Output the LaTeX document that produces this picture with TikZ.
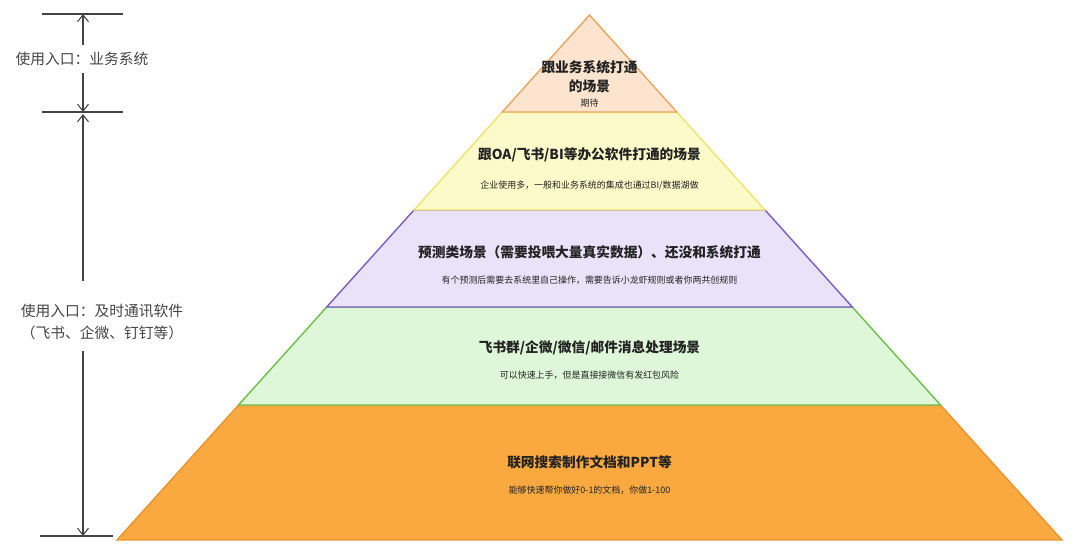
\documentclass[tikz,border=0pt]{standalone}
\usepackage{fontspec}
\setmainfont{Noto Sans CJK SC}
\usepackage{xcolor}
\usetikzlibrary{arrows.meta}
\definecolor{topfill}{HTML}{FCE4CE}
\definecolor{topline}{HTML}{E9A560}
\definecolor{oafill}{HTML}{FDFAC9}
\definecolor{oaline}{HTML}{F0E270}
\definecolor{predfill}{HTML}{E9E2F8}
\definecolor{predline}{HTML}{7B5CC4}
\definecolor{imfill}{HTML}{DEF7D8}
\definecolor{imline}{HTML}{6CBF4C}
\definecolor{webfill}{HTML}{F9A93F}
\definecolor{webline}{HTML}{E69530}
\definecolor{txt}{HTML}{222222}
\definecolor{side}{HTML}{444444}
\tikzset{
  tier/.style={line width=0.8pt, line join=miter},
  ttl/.style={font=\bfseries\fontsize{7.8}{11}\selectfont, text=txt, align=center, inner sep=1pt},
  note/.style={font=\fontsize{5.1}{6}\selectfont, text=txt, inner sep=1pt},
  lbl/.style={font=\fontsize{8.4}{12}\selectfont, text=side, align=center, inner sep=2pt},
  tick/.style={draw=side, line width=0.6pt},
  dimarr/.style={-{Straight Barb[length=1.4mm, width=2.2mm]}, draw=side, line width=0.6pt},
}
\begin{document}
\begin{tikzpicture}[x=0.02cm, y=-0.02cm]
\useasboundingbox (0,0) rectangle (1080,560);
% pyramid, drawn from the base upwards
\path[tier, fill=webfill, draw=webline] (238.5,405) -- (940.5,405) -- (1062,540) -- (117,540) -- cycle;
\path[tier, fill=imfill, draw=imline] (326.7,307) -- (852.3,307) -- (940.5,405) -- (238.5,405) -- cycle;
\path[tier, fill=predfill, draw=predline] (414,210) -- (765,210) -- (852.3,307) -- (326.7,307) -- cycle;
\path[tier, fill=oafill, draw=oaline] (502.2,112) -- (676.8,112) -- (765,210) -- (414,210) -- cycle;
\path[tier, fill=topfill, draw=topline] (589.5,15) -- (676.8,112) -- (502.2,112) -- cycle;
% tier texts
\node[ttl] (t1) at (589.5,77) {跟业务系统打通\\的场景};
\node[note] (n1) at (589.5,103) {期待};
\node[ttl] (t2) at (589.5,155) {跟OA/飞书/BI等办公软件打通的场景};
\node[note] (n2) at (589.5,186) {企业使用多，一般和业务系统的集成也通过BI/数据湖做};
\node[ttl] (t3) at (589.5,252) {预测类场景（需要投喂大量真实数据）、还没和系统打通};
\node[note] (n3) at (589.5,280) {有个预测后需要去系统里自己操作，需要告诉小龙虾规则或者你两共创规则};
\node[ttl] (t4) at (589.5,348) {飞书群/企微/微信/邮件消息处理场景};
\node[note] (n4) at (589.5,375) {可以快速上手，但是直接接微信有发红包风险};
\node[ttl] (t5) at (589.5,462) {联网搜索制作文档和PPT等};
\node[note] (n5) at (589.5,490) {能够快速帮你做好0-1的文档，你做1-100};
% entry points on the left
\node[lbl] (lab1) at (82,59) {使用入口：业务系统};
\node[lbl] (lab2) at (102,322) {使用入口：及时通讯软件\\（飞书、企微、钉钉等）};
\coordinate (u1) at (83,45);
\coordinate (d1) at (83,73);
\coordinate (u2) at (83,281);
\coordinate (d2) at (83,351);
\coordinate (e1) at (83,14);
\coordinate (e2) at (83,112);
\coordinate (e2b) at (83,114);
\coordinate (e3) at (83,536);
\draw[tick] (42,14) -- (123,14);
\draw[tick] (42,112) -- (123,112);
\draw[tick] (40,536) -- (113,536);
\draw[dimarr] (u1) -- (e1);
\draw[dimarr] (d1) -- (e2);
\draw[dimarr] (u2) -- (e2b);
\draw[dimarr] (d2) -- (e3);
\end{tikzpicture}
\end{document}
